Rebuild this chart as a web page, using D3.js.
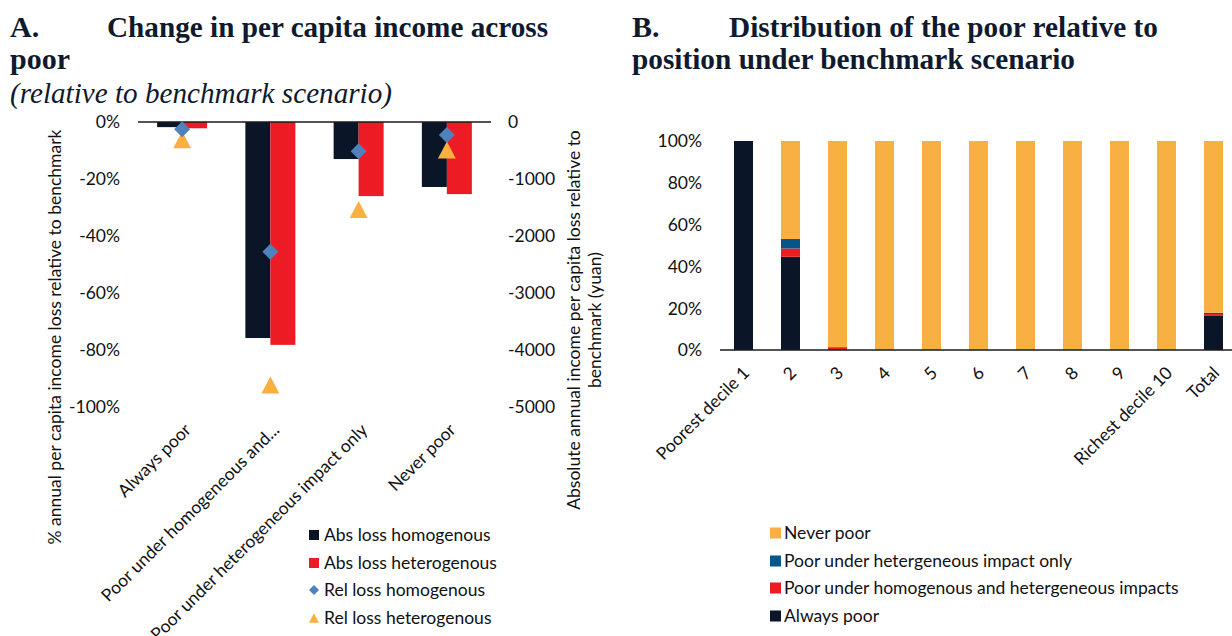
<!DOCTYPE html>
<html>
<head>
<meta charset="utf-8">
<script src="https://cdn.jsdelivr.net/npm/d3@7"></script>
<style>
  body { margin: 0; background: #fff; }
  svg { display: block; }
  .lbl { font-family: Lato, "Open Sans", sans-serif; font-size: 17.5px; fill: #111; }
  .ttl { font-family: "Liberation Serif", "Times New Roman", serif; font-weight: bold; font-size: 30px; fill: #0f1a2e; }
</style>
</head>
<body>
<svg id="chart" width="1232" height="636"></svg>
<script>
// ---- Panel A: income change by poverty group ----
const categoriesA = ["Always poor", "Poor under homogeneous and...", "Poor under heterogeneous impact only", "Never poor"];
const absLossHomogenous = [-90, -3790, -650, -1140];      // yuan
const absLossHeterogenous = [-110, -3910, -1300, -1265];  // yuan
const relLossHomogenous = [-2.5, -45.5, -10.3, -4.6];     // %
const relLossHeterogenous = [-6.2, -92.3, -30.7, -9.8];   // %
const pctTicks = [0, -20, -40, -60, -80, -100];
const yuanTicks = [0, -1000, -2000, -3000, -4000, -5000];
const seriesNamesA = ["Abs loss homogenous", "Abs loss heterogenous", "Rel loss homogenous", "Rel loss heterogenous"];

// ---- Panel B: distribution of the poor by decile (% of group) ----
const deciles = ["Poorest decile 1", "2", "3", "4", "5", "6", "7", "8", "9", "Richest decile 10", "Total"];
const alwaysPoor   = [100, 44.6, 0.1, 0, 0, 0, 0, 0, 0, 0, 16.3];
const poorHomHet   = [0, 4.0, 1.0, 0, 0, 0, 0, 0, 0, 0, 0.9];
const poorHetOnly  = [0, 4.5, 0.3, 0, 0, 0, 0, 0, 0, 0, 0.6];
const neverPoor    = [0, 46.9, 98.6, 100, 100, 100, 100, 100, 100, 100, 82.2];
const shareTicks = [0, 20, 40, 60, 80, 100];
const seriesNamesB = ["Always poor", "Poor under homogenous and hetergeneous impacts", "Poor under hetergeneous impact only", "Never poor"];

const C = {
  navy: "#0b1528", red: "#ed1c24", blue: "#4f81bd", orange: "#f9b040",
  teal: "#05558b", amber: "#f8b042"
};

const svg = d3.select("#chart");

// ---------- titles ----------
function title(x, y, txt, len, italic) {
  const t = svg.append("text").attr("class", "ttl").attr("x", x).attr("y", y).text(txt);
  if (len) t.attr("textLength", len).attr("lengthAdjust", "spacingAndGlyphs");
  if (italic) t.style("font-style", "italic").style("font-weight", "normal");
  return t;
}
title(10, 37, "A.");
title(107, 37, "Change in per capita income across", 441);
title(10, 69, "poor");
title(10, 103, "(relative to benchmark scenario)", 382, true);
title(632, 37, "B.");
title(729, 37, "Distribution of the poor relative to", 429);
title(632, 69, "position under benchmark scenario", 443);

// ---------- marker shapes ----------
const diamond = { draw(c, s) { const r = Math.sqrt(s) / 2; c.moveTo(0, -r); c.lineTo(r, 0); c.lineTo(0, r); c.lineTo(-r, 0); c.closePath(); } };
const triangle = { draw(c, s) { const r = Math.sqrt(s) / 2; c.moveTo(0, -r); c.lineTo(r * 1.05, r); c.lineTo(-r * 1.05, r); c.closePath(); } };

// ---------- Panel A ----------
const xA = d3.scaleBand().domain(categoriesA).range([138, 491]);
const xA1 = d3.scaleBand().domain([0, 1]).range([0, xA.bandwidth()]).paddingOuter(0.765);
const yPct = d3.scaleLinear().domain([-100, 0]).range([407, 122]);
const yYuan = d3.scaleLinear().domain([-5000, 0]).range([407, 122]);

const gA = svg.append("g");
const absSeries = [absLossHomogenous, absLossHeterogenous];
const absColors = [C.navy, C.red];
absSeries.forEach((vals, si) => {
  gA.append("g").selectAll("rect").data(categoriesA.map((c, i) => ({ c, v: vals[i] })))
    .join("rect")
    .attr("x", d => xA(d.c) + xA1(si))
    .attr("y", yYuan(0))
    .attr("width", xA1.bandwidth())
    .attr("height", d => yYuan(d.v) - yYuan(0))
    .attr("fill", absColors[si]);
});

// zero line
gA.append("line").attr("x1", 138).attr("x2", 491).attr("y1", yYuan(0)).attr("y2", yYuan(0))
  .attr("stroke", "#1a1a1a").attr("stroke-width", 1.3);

// relative-loss markers
gA.append("g").selectAll("path").data(categoriesA.map((c, i) => ({ c, v: relLossHeterogenous[i] })))
  .join("path")
  .attr("transform", d => `translate(${xA(d.c) + xA.bandwidth() / 2},${yPct(d.v)})`)
  .attr("d", d3.symbol().type(triangle).size(289))
  .attr("fill", C.orange);
gA.append("g").selectAll("path").data(categoriesA.map((c, i) => ({ c, v: relLossHomogenous[i] })))
  .join("path")
  .attr("transform", d => `translate(${xA(d.c) + xA.bandwidth() / 2},${yPct(d.v)})`)
  .attr("d", d3.symbol().type(diamond).size(256))
  .attr("fill", C.blue);

// axes
const axL = gA.append("g").attr("transform", "translate(138,0)")
  .call(d3.axisLeft(yPct).tickValues(pctTicks).tickFormat(d => d + "%").tickSize(0).tickPadding(18));
const axR = gA.append("g").attr("transform", "translate(491,0)")
  .call(d3.axisRight(yYuan).tickValues(yuanTicks).tickFormat(d => String(d)).tickSize(0).tickPadding(17));
[axL, axR].forEach(a => {
  a.select(".domain").remove();
  a.selectAll("text").attr("class", "lbl").attr("fill", null).attr("dy", "0.34em");
});

// category labels
gA.append("g").selectAll("text").data(categoriesA).join("text")
  .attr("class", "lbl")
  .attr("text-anchor", "end")
  .attr("transform", d => `translate(${xA(d) + xA.bandwidth() / 2 + 10},431) rotate(-45)`)
  .text(d => d);

// axis titles
gA.append("text").attr("class", "lbl").attr("text-anchor", "middle")
  .attr("transform", "translate(61,337) rotate(-90)")
  .text("% annual per capita income loss relative to benchmark");
gA.append("text").attr("class", "lbl").attr("text-anchor", "middle")
  .attr("transform", "translate(580,320) rotate(-90)")
  .text("Absolute annual income per capita loss relative to");
gA.append("text").attr("class", "lbl").attr("text-anchor", "middle")
  .attr("transform", "translate(601,320) rotate(-90)")
  .text("benchmark (yuan)");

// legend A
const legA = gA.append("g");
const legAY = [535, 563, 590, 618];
seriesNamesA.forEach((name, i) => {
  const y = legAY[i];
  if (i < 2) {
    legA.append("rect").attr("x", 309).attr("y", y - 5).attr("width", 10).attr("height", 10).attr("fill", absColors[i]);
  } else {
    legA.append("path").attr("transform", `translate(314,${y})`)
      .attr("d", d3.symbol().type(i === 2 ? diamond : triangle).size(i === 2 ? 100 : 90))
      .attr("fill", i === 2 ? C.blue : C.orange);
  }
  legA.append("text").attr("class", "lbl").attr("x", 324).attr("y", y).attr("dy", "0.35em").text(name);
});

// ---------- Panel B ----------
const xB = d3.scaleBand().domain(deciles).range([720, 1237]).paddingInner(0.596).paddingOuter(0.298);
const yB = d3.scaleLinear().domain([0, 100]).range([350, 141]);

const rowsB = deciles.map((d, i) => ({
  decile: d, always: alwaysPoor[i], homhet: poorHomHet[i], hetonly: poorHetOnly[i], never: neverPoor[i]
}));
const keysB = ["always", "homhet", "hetonly", "never"];
const colorsB = { always: C.navy, homhet: C.red, hetonly: C.teal, never: C.amber };
const stacked = d3.stack().keys(keysB)(rowsB);

const gB = svg.append("g");
gB.selectAll("g.layer").data(stacked).join("g").attr("class", "layer")
  .attr("fill", s => colorsB[s.key])
  .selectAll("rect").data(s => s).join("rect")
  .attr("x", d => xB(d.data.decile))
  .attr("y", d => yB(d[1]))
  .attr("width", xB.bandwidth())
  .attr("height", d => yB(d[0]) - yB(d[1]));

gB.append("line").attr("x1", 720).attr("x2", 1237).attr("y1", yB(0)).attr("y2", yB(0))
  .attr("stroke", "#1a1a1a").attr("stroke-width", 1.5);

const axB = gB.append("g").attr("transform", "translate(720,0)")
  .call(d3.axisLeft(yB).tickValues(shareTicks).tickFormat(d => d + "%").tickSize(0).tickPadding(18));
axB.select(".domain").remove();
axB.selectAll("text").attr("class", "lbl").attr("fill", null).attr("dy", "0.34em");

gB.append("g").selectAll("text").data(deciles).join("text")
  .attr("class", "lbl")
  .attr("text-anchor", "end")
  .attr("transform", d => `translate(${xB(d) + xB.bandwidth() / 2 + 7},374) rotate(-45)`)
  .text(d => d);

// legend B (top to bottom mirrors the stack)
const legB = gB.append("g");
const legBY = [533, 561, 588, 616];
["never", "hetonly", "homhet", "always"].forEach((k, i) => {
  const y = legBY[i];
  legB.append("rect").attr("x", 770).attr("y", y - 5.5).attr("width", 11).attr("height", 11).attr("fill", colorsB[k]);
  legB.append("text").attr("class", "lbl").attr("x", 784).attr("y", y).attr("dy", "0.35em")
    .text(seriesNamesB[keysB.indexOf(k)]);
});
</script>
</body>
</html>
